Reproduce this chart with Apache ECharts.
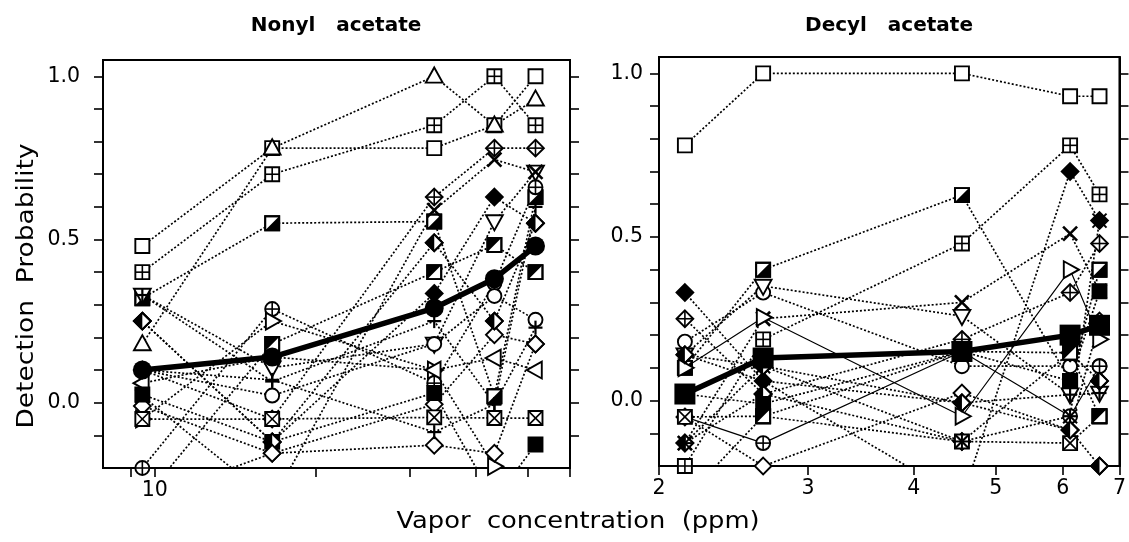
<!DOCTYPE html>
<html><head><meta charset="utf-8">
<script src="https://cdn.jsdelivr.net/npm/echarts@6/dist/echarts.min.js"></script>
<style>html,body{margin:0;padding:0;background:#fff}#c{width:1129px;height:542px}</style>
</head><body><div id="c"></div>
<script>
// ---------- DATA ----------
const leftConc  = [9.48, 16.6, 33.4, 43.3, 51.7];     // Nonyl acetate, ppm
const rightConc = [2.146, 2.655, 4.56, 6.12, 6.63];   // Decyl acetate, ppm
const leftMean  = [0.10, 0.14, 0.29, 0.38, 0.48];
const rightMean = [0.02, 0.13, 0.15, 0.20, 0.23];

const leftShapes = ['sq','sqplus','tri','sqhalf','diafill','circplus','trid','trir','tril','circ',
                    'dia','diaplus','x','plus','sqfill','sqx','diahalf','sqhalf2','dia','plus'];
const leftValues = [
  [0.48, 0.78, 0.78, 0.85, 1.00],
  [0.40, 0.70, 0.85, 1.00, 0.85],
  [0.18, 0.78, 1.00, 0.85, 0.93],
  [0.32, 0.55, 0.555, 0.02, 0.63],
  [0.25, -0.12, 0.335, 0.63, 0.55],
  [-0.20, 0.287, 0.06, 0.366, 0.66],
  [0.33, 0.107, 0.18, 0.555, 0.707],
  [-0.05, 0.25, 0.10, -0.195, -0.35],
  [0.06, 0.14, 0.10, 0.137, 0.10],
  [0.10, 0.022, 0.18, 0.327, 0.254],
  [-0.01, -0.155, -0.005, 0.208, 0.18],
  [0.10, -0.05, 0.63, 0.78, 0.78],
  [0.02, -0.30, 0.59, 0.745, 0.707],
  [0.33, 0.065, 0.25, -0.005, 0.60],
  [0.025, -0.12, 0.03, -0.30, -0.128],
  [-0.05, -0.05, -0.045, -0.047, -0.047],
  [0.25, -0.12, 0.49, 0.25, 0.55],
  [-0.30, 0.18, 0.40, 0.483, 0.40],
  [-0.30, -0.155, -0.13, -0.155, 0.18],
  [0.10, 0.07, -0.09, -0.005, 0.23]
];

const rightShapes = ['sq','sqplus','sqhalf','diafill','diaplus','circ','x','trid','trir','circplus',
                     'dia','diahalf','sqfill','sqx','plus','star','sqhalf2','diahalf'];
const rightSolid  = [8, 9]; // subjects drawn with thin solid lines
const rightValues = [
  [0.78, 1.00, 1.00, 0.93, 0.93],
  [-0.20, 0.187, 0.48, 0.78, 0.63],
  [0.10, 0.40, 0.628, 0.06, 0.40],
  [0.33, 0.06, -0.30, 0.70, 0.55],
  [0.25, 0.02, 0.187, 0.33, 0.48],
  [0.18, 0.33, 0.105, 0.105, 0.105],
  [-0.13, 0.25, 0.30, 0.51, 0.334],
  [0.14, 0.35, 0.258, 0.018, 0.023],
  [0.10, 0.254, -0.048, 0.40, 0.187],
  [-0.05, -0.13, 0.15, -0.048, 0.105],
  [-0.05, -0.20, 0.023, -0.09, 0.243],
  [-0.13, 0.02, -0.125, 0.146, 0.06],
  [0.02, -0.01, 0.15, 0.06, 0.334],
  [-0.05, -0.048, -0.125, -0.13, -0.048],
  [0.14, 0.06, -0.007, 0.018, 0.023],
  [-0.13, 0.105, -0.125, -0.048, 0.55],
  [-0.30, -0.048, 0.15, 0.146, -0.048],
  [0.14, 0.105, -0.007, -0.09, -0.20]
];

const yTicks = [-0.1, 0, 0.1, 0.2, 0.3, 0.4, 0.5, 0.6, 0.7, 0.8, 0.9, 1.0];
const yLabels = [0, 0.5, 1.0];
const leftXTicks = [9, 10, 20, 30, 40, 50, 60];
const leftXLabels = [10];
const rightXTicks = [2, 3, 4, 5, 6, 7];

// ---------- MARKERS ----------
const SHAPE_LIST = ['sq','sqplus','sqhalf','sqhalf2','sqx','sqfill','tri','trid','tril','trir',
                    'dia','diafill','diaplus','diahalf','circ','circplus','x','plus','star'];
function drawShape(kind, x, y) {
  const h = 7, lw = 1.9, c = [];
  const st = f => ({fill: f, stroke: '#000', lineWidth: lw});
  const ln = (x1, y1, x2, y2, w) => ({type: 'line', shape: {x1, y1, x2, y2}, style: {stroke: '#000', lineWidth: w || 1.6}});
  const poly = (pts, f) => ({type: 'polygon', shape: {points: pts}, style: st(f)});
  const blk = pts => ({type: 'polygon', shape: {points: pts}, style: {fill: '#000'}});
  const sq = f => ({type: 'rect', shape: {x: x - h, y: y - h, width: 2 * h, height: 2 * h}, style: st(f)});
  const d = h * 1.2;
  const dia = f => poly([[x, y - d], [x + d, y], [x, y + d], [x - d, y]], f);
  const t = h * 1.2;
  switch (kind) {
    case 'sq': c.push(sq('#fff')); break;
    case 'sqplus': c.push(sq('#fff'), ln(x, y - h, x, y + h), ln(x - h, y, x + h, y)); break;
    case 'sqhalf': c.push(sq('#fff'), blk([[x + h, y - h], [x + h, y + h], [x - h, y + h]]), sq('none')); break;
    case 'sqhalf2': c.push(sq('#fff'), blk([[x - h, y - h], [x + h, y - h], [x - h, y + h]]), sq('none')); break;
    case 'sqx': c.push(sq('#fff'), ln(x - h, y - h, x + h, y + h), ln(x + h, y - h, x - h, y + h)); break;
    case 'sqfill': c.push(sq('#000')); break;
    case 'tri': c.push(poly([[x, y - t * 1.05], [x + t, y + t * 0.75], [x - t, y + t * 0.75]], '#fff')); break;
    case 'trid': c.push(poly([[x, y + t * 1.05], [x + t, y - t * 0.75], [x - t, y - t * 0.75]], '#fff')); break;
    case 'tril': c.push(poly([[x - t * 1.05, y], [x + t * 0.75, y - t], [x + t * 0.75, y + t]], '#fff')); break;
    case 'trir': c.push(poly([[x + t * 1.05, y], [x - t * 0.75, y - t], [x - t * 0.75, y + t]], '#fff')); break;
    case 'dia': c.push(dia('#fff')); break;
    case 'diafill': c.push(dia('#000')); break;
    case 'diaplus': c.push(dia('#fff'), ln(x, y - d, x, y + d), ln(x - d, y, x + d, y)); break;
    case 'diahalf': c.push(dia('#fff'), blk([[x, y - d], [x, y + d], [x - d, y]]), dia('none')); break;
    case 'circ': c.push({type: 'circle', shape: {cx: x, cy: y, r: h}, style: st('#fff')}); break;
    case 'circplus': c.push({type: 'circle', shape: {cx: x, cy: y, r: h}, style: st('#fff')},
                            ln(x, y - h, x, y + h), ln(x - h, y, x + h, y)); break;
    case 'x': c.push(ln(x - h, y - h, x + h, y + h, 2.6), ln(x + h, y - h, x - h, y + h, 2.6)); break;
    case 'plus': c.push(ln(x, y - h, x, y + h, 2.2), ln(x - h, y, x + h, y, 2.2)); break;
    case 'star': c.push(ln(x - h, y - h, x + h, y + h, 2), ln(x + h, y - h, x - h, y + h, 2),
                        ln(x, y - h, x, y + h, 2), ln(x - h, y, x + h, y, 2)); break;
  }
  return {type: 'group', children: c};
}
function renderMarker(params, api) {
  const p = api.coord([api.value(0), api.value(1)]);
  return drawShape(SHAPE_LIST[api.value(2)], p[0], p[1]);
}

// ---------- SERIES ----------
const series = [];
function addPanel(idx, conc, values, shapes, mean, meanSymbol, meanSize, solid) {
  const pts = [];
  values.forEach((vals, s) => {
    const isSolid = solid && solid.indexOf(s) >= 0;
    series.push({
      type: 'line', xAxisIndex: idx, yAxisIndex: idx, symbol: 'none', silent: true, clip: true, z: 2,
      lineStyle: {color: '#000', width: isSolid ? 1.2 : 1.7, type: isSolid ? 'solid' : [2, 2]},
      data: conc.map((c, i) => [c, vals[i]])
    });
    vals.forEach((v, i) => { if (v >= -0.205) pts.push([conc[i], v, SHAPE_LIST.indexOf(shapes[s])]); });
  });
  series.push({type: 'custom', xAxisIndex: idx, yAxisIndex: idx, renderItem: renderMarker, data: pts,
               clip: false, silent: true, z: 3});
  series.push({type: 'line', xAxisIndex: idx, yAxisIndex: idx, z: 5, silent: true,
               symbol: meanSymbol, symbolSize: meanSize, itemStyle: {color: '#000'},
               lineStyle: {color: '#000', width: 5.5},
               data: conc.map((c, i) => [c, mean[i]])});
}
addPanel(0, leftConc, leftValues, leftShapes, leftMean, 'circle', 19, null);
addPanel(1, rightConc, rightValues, rightShapes, rightMean, 'rect', 21, rightSolid);

const FONT = 'DejaVu Sans';
const axisLine = {show: true, onZero: false, lineStyle: {color: '#000', width: 2}};
function yAx(grid, pos, labels, margin) {
  return {type: 'value', gridIndex: grid, position: pos, min: -0.2, max: 1.05,
    axisLine: axisLine, splitLine: {show: false},
    axisTick: {show: true, inside: false, length: 9, customValues: yTicks, lineStyle: {color: '#000', width: 1.6}},
    axisLabel: {show: labels, customValues: yLabels, formatter: v => v.toFixed(1), fontSize: 20.5,
                fontFamily: FONT, color: '#000', margin: margin}};
}
function xAx(grid, min, max, ticks, labels) {
  return {type: 'log', logBase: 10, gridIndex: grid, min: min, max: max, position: 'bottom',
    axisLine: axisLine, splitLine: {show: false},
    axisTick: {show: true, inside: false, length: 9, customValues: ticks, lineStyle: {color: '#000', width: 1.6}},
    axisLabel: {show: true, customValues: labels, formatter: v => String(Math.round(v)), fontSize: 20.5,
                fontFamily: FONT, color: '#000', margin: 12}};
}

const option = {
  animation: false,
  backgroundColor: '#fff',
  grid: [
    {left: 103, top: 60, width: 467, height: 408, show: true, borderColor: '#000', borderWidth: 2},
    {left: 659, top: 57, width: 463, height: 409, show: true, borderColor: '#000', borderWidth: 2}
  ],
  xAxis: [xAx(0, 8, 60, leftXTicks, leftXLabels), xAx(1, 2, 7, rightXTicks, rightXTicks)],
  yAxis: [yAx(0, 'left', true, 23), yAx(1, 'left', true, 16), yAx(0, 'right', false, 16), yAx(1, 'right', false, 16)],
  graphic: [
    {type: 'text', x: 336, y: 26, style: {text: 'Nonyl   acetate', font: 'bold 20px "DejaVu Sans"', fill: '#000', textAlign: 'center', textVerticalAlign: 'middle'}},
    {type: 'text', x: 889, y: 26, style: {text: 'Decyl   acetate', font: 'bold 20px "DejaVu Sans"', fill: '#000', textAlign: 'center', textVerticalAlign: 'middle'}},
    {type: 'text', x: 578, y: 522, scaleX: 1.12, style: {text: 'Vapor  concentration  (ppm)', font: '23px "DejaVu Sans"', fill: '#000', textAlign: 'center', textVerticalAlign: 'middle'}},
    {type: 'text', x: 27, y: 286, rotation: Math.PI / 2, scaleX: 1.15, style: {text: 'Detection  Probability', font: '23px "DejaVu Sans"', fill: '#000', textAlign: 'center', textVerticalAlign: 'middle'}}
  ],
  series: series
};
const chart = echarts.init(document.getElementById('c'), null, {renderer: 'canvas'});
chart.setOption(option);
</script></body></html>
